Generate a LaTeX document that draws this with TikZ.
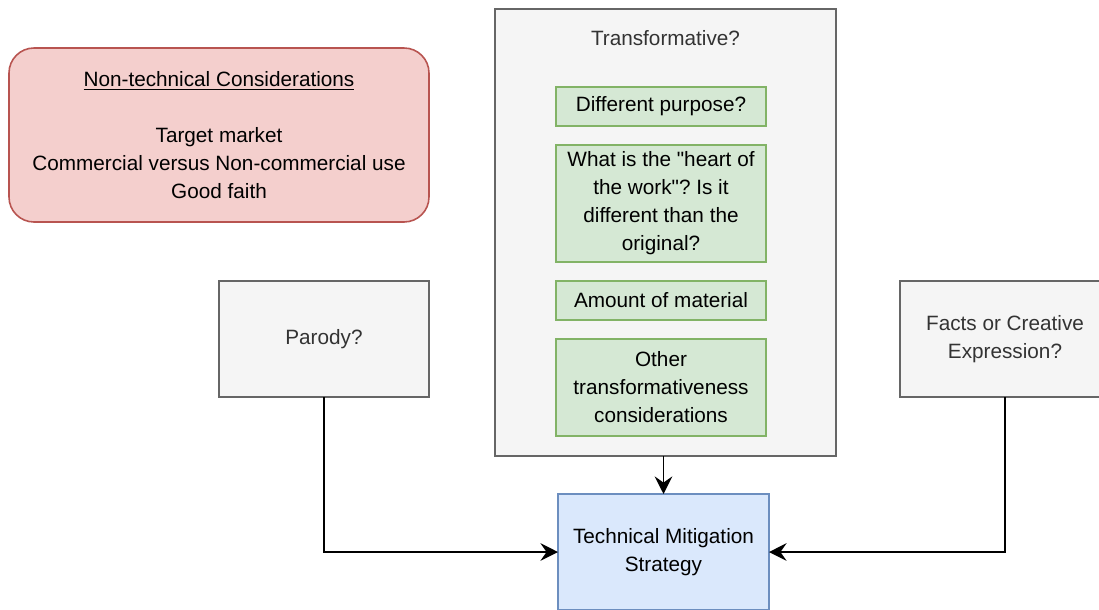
\documentclass[tikz,border=0pt]{standalone}
\usepackage{fontspec}
\setmainfont{Liberation Sans}
\usepackage{tikz}
\usetikzlibrary{arrows.meta}
\definecolor{pinkfill}{HTML}{F4CFCD}
\definecolor{pinkdraw}{HTML}{B85450}
\definecolor{greenfill}{HTML}{D5E8D4}
\definecolor{greendraw}{HTML}{82B366}
\definecolor{bluefill}{HTML}{DAE8FC}
\definecolor{bluedraw}{HTML}{6C8EBF}
\definecolor{greyfill}{HTML}{F5F5F5}
\definecolor{greydraw}{HTML}{666666}
\definecolor{greytext}{HTML}{333333}
\frenchspacing

\begin{document}
\begin{tikzpicture}[x=0.02cm, y=-0.02cm,
  every node/.style={font=\fontsize{11.8}{15.9}\selectfont, align=center, inner sep=0pt, outer sep=0pt, line width=0.9pt},
  greybox/.style={draw=greydraw, fill=greyfill, text=greytext, minimum width=210*0.02cm, minimum height=116*0.02cm},
  greenbox/.style={draw=greendraw, fill=greenfill, minimum width=210*0.02cm},
  link/.style={draw=black, line width=1.1pt, -{Stealth[length=10pt, width=10pt, inset=3.5pt]}}]
\clip (0,0) rectangle (1099,609);
\fill[white] (0,0) rectangle (1099,609);

\node[draw=pinkdraw, fill=pinkfill, rounded corners=0.5cm, minimum width=420*0.02cm, minimum height=174*0.02cm] (nontech) at (219,135)
  {\underline{Non-technical Considerations}\\[15.9pt]Target market\\Commercial versus Non-commercial use\\Good faith};

\node[draw=greydraw, fill=greyfill, minimum width=341*0.02cm, minimum height=447*0.02cm,
  label={[anchor=north, yshift=-0.42cm, text=greytext]north:Transformative?}] (trans) at (665.5,232.5) {};
\node[greenbox, minimum height=39*0.02cm] (purpose) at (661,106.5) {Different purpose?};
\node[greenbox, minimum height=117*0.02cm] (heart) at (661,203.5) {What is the \textquotedbl heart of\\the work\textquotedbl? Is it\\different than the\\original?};
\node[greenbox, minimum height=39*0.02cm] (amount) at (661,300.5) {Amount of material};
\node[greenbox, minimum height=97*0.02cm] (other) at (661,387.5) {Other\\transformativeness\\considerations};

\node[greybox] (parody) at (324,339) {Parody?};
\node[greybox] (facts) at (1005,339) {Facts or Creative\\Expression?};

\node[draw=bluedraw, fill=bluefill, minimum width=211*0.02cm, minimum height=116*0.02cm] (tech) at (663.5,552) {Technical Mitigation\\Strategy};

\draw[link] (trans.south -| tech) -- (tech);
\draw[link] (parody) |- (tech);
\draw[link] (facts) |- (tech);
\end{tikzpicture}
\end{document}
